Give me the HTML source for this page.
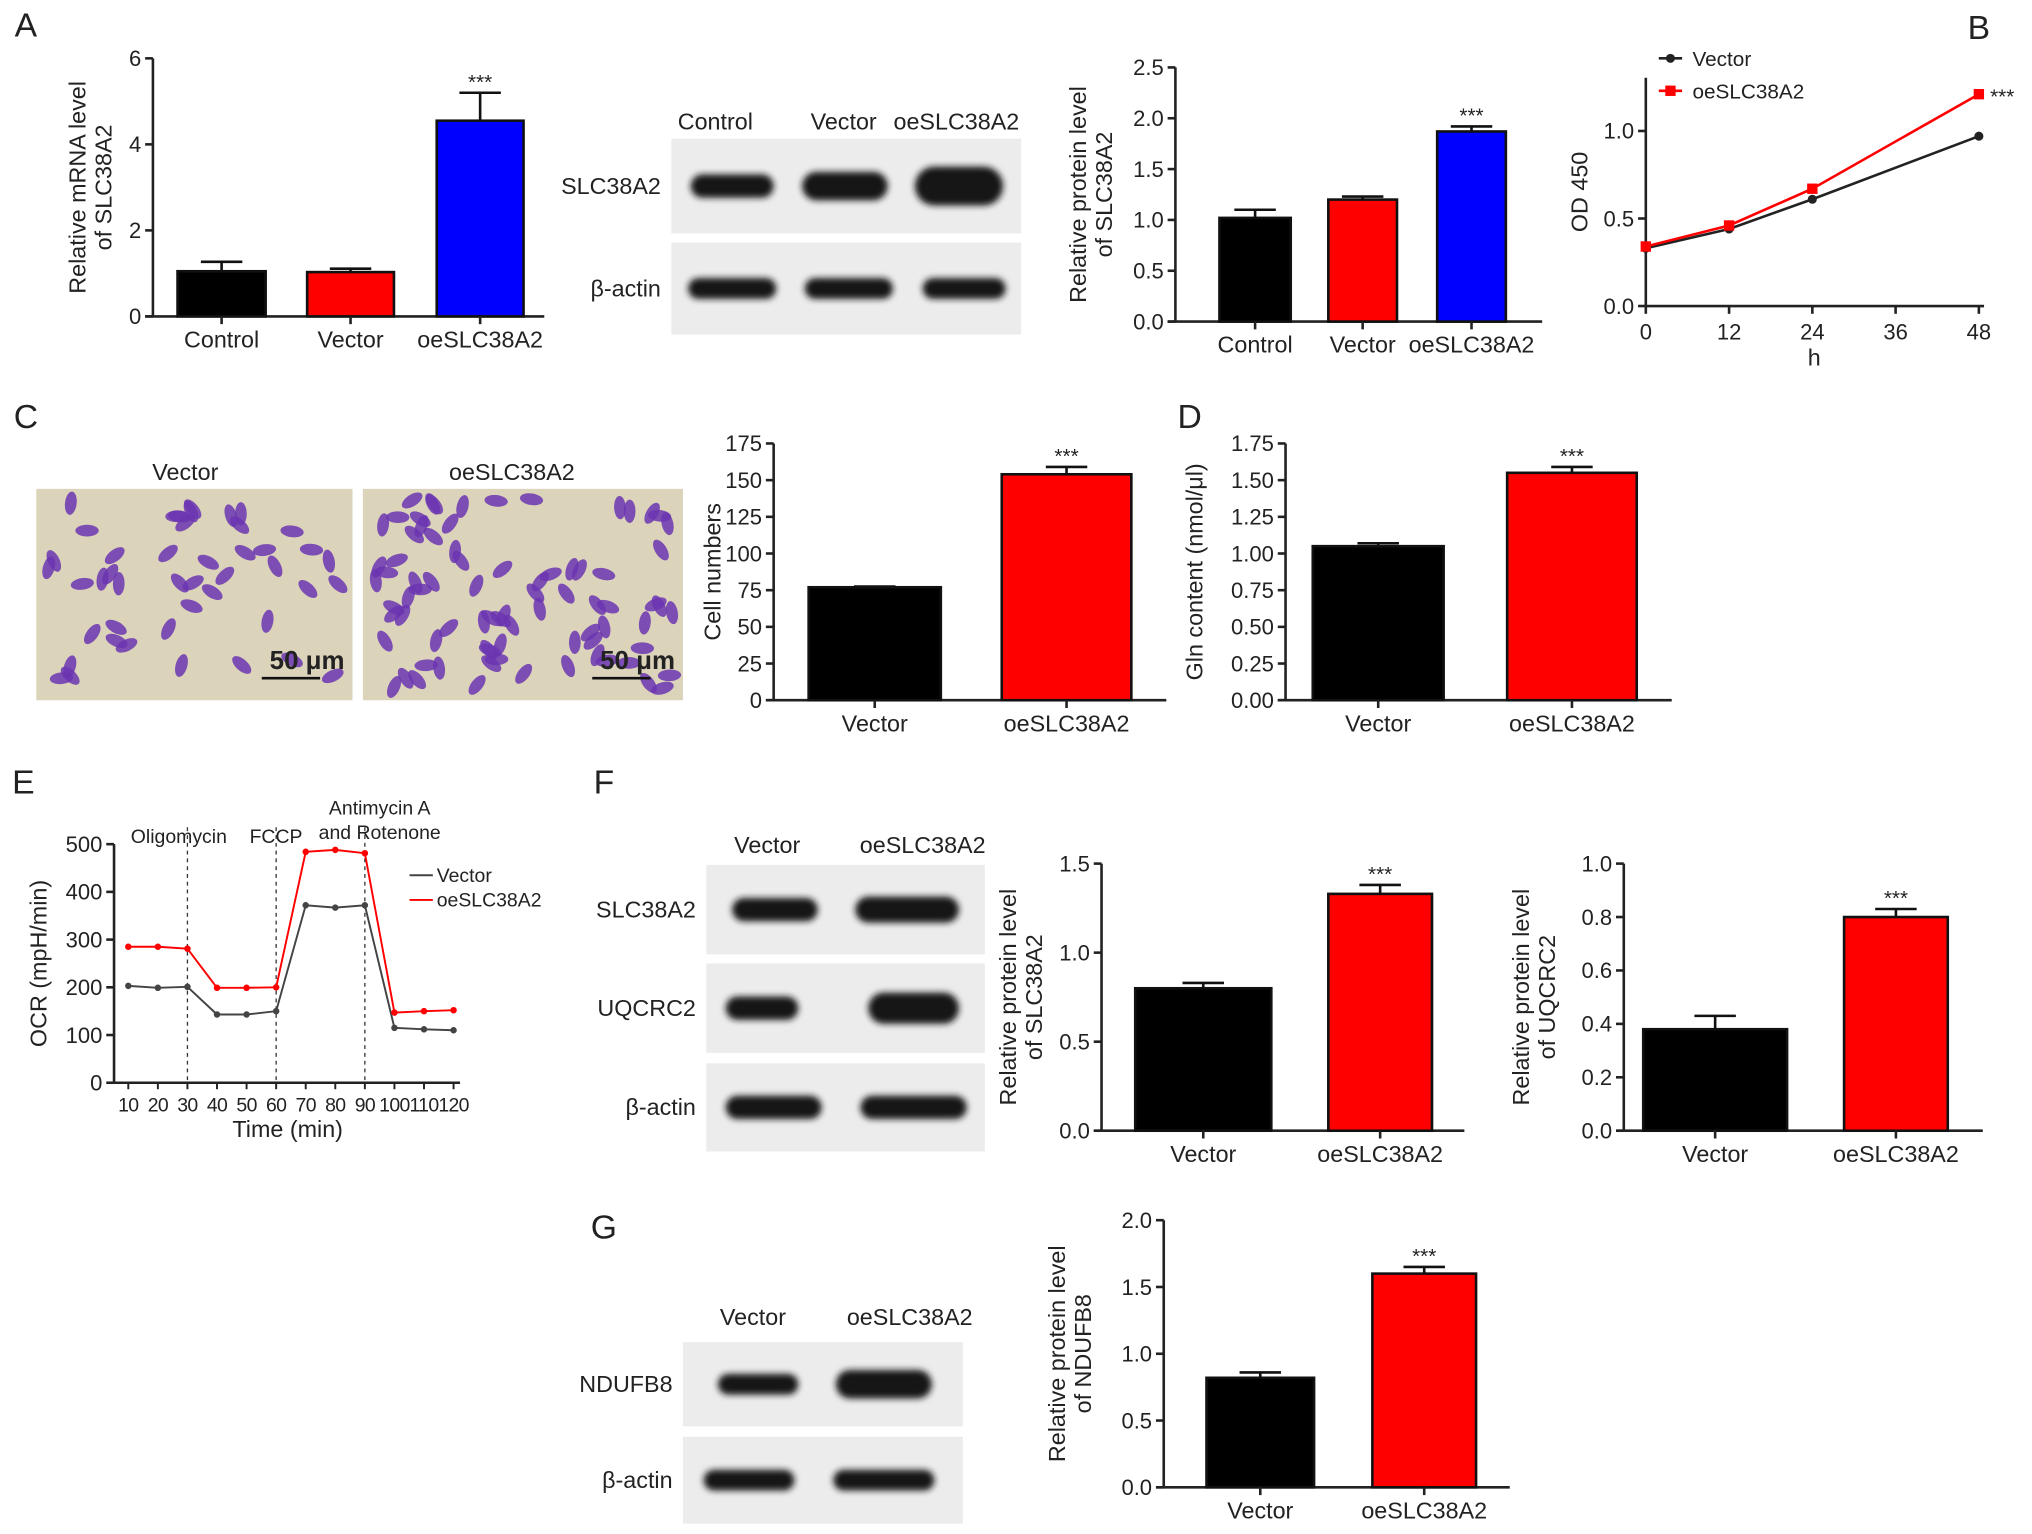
<!DOCTYPE html>
<html><head><meta charset="utf-8"><style>
html,body{margin:0;padding:0;background:#fff;}
svg{display:block;font-family:"Liberation Sans",Arial,sans-serif;}
</style></head><body>
<svg id="fig" width="2032" height="1534" viewBox="0 0 1568 1183" preserveAspectRatio="none" xmlns="http://www.w3.org/2000/svg">
<defs><filter id="blur" x="-20%" y="-50%" width="140%" height="200%"><feGaussianBlur stdDeviation="2.5"/></filter></defs>
</svg>
<script>
// ---- Data ----
const aMrnaCats = ["Control","Vector","oeSLC38A2"];
const aMrnaVals = [1.05,1.03,4.55];
const aMrnaErr = [0.22,0.08,0.65];
const aProtCats = ["Control","Vector","oeSLC38A2"];
const aProtVals = [1.02,1.20,1.87];
const aProtErr = [0.08,0.03,0.05];
const bHours = [0,12,24,48];
const bVector = [0.33,0.44,0.61,0.97];
const bOe = [0.34,0.46,0.67,1.21];
const cCats = ["Vector","oeSLC38A2"];
const cVals = [77,154];
const cErr = [0.5,5];
const dVals = [1.05,1.55];
const dErr = [0.02,0.04];
const eTimes = [10,20,30,40,50,60,70,80,90,100,110,120];
const eVector = [203,199,201,143,143,150,372,367,372,115,112,110];
const eOe = [285,285,281,199,199,200,484,488,481,147,150,152];
const fSlcVals = [0.80,1.33];
const fSlcErr = [0.03,0.05];
const fUqVals = [0.38,0.80];
const fUqErr = [0.05,0.03];
const gVals = [0.82,1.60];
const gErr = [0.04,0.05];

const svg = document.getElementById('fig');
const NS = 'http://www.w3.org/2000/svg';
function mk(tag, attrs, parent, txt){
  const e = document.createElementNS(NS, tag);
  for (const k in attrs) e.setAttribute(k, attrs[k]);
  if (txt !== undefined) e.textContent = txt;
  (parent || svg).appendChild(e);
  return e;
}
function text(x,y,s,size,anchor,name,extra){
  const t = mk('text', Object.assign({x:x,y:y,'font-size':size,'text-anchor':anchor||'middle',fill:'#222'}, extra||{}), null, s);
  
  
  return t;
}

function barChart(o){
  const g = mk('g', {});
  
  
  const sy = v => o.y0 - (v / o.max) * (o.y0 - o.yTop);
  const ya = mk('line', {x1:o.ax,y1:o.yTop,x2:o.ax,y2:o.y0,stroke:'#222','stroke-width':2}, g);
  
  
  const xa = mk('line', {x1:o.ax-6,y1:o.y0,x2:o.xEnd,y2:o.y0,stroke:'#222','stroke-width':2}, g);
  
  
  o.ticks.forEach(t => {
    const y = sy(t);
    const tl = mk('line', {x1:o.ax-6,y1:y,x2:o.ax,y2:y,stroke:'#222','stroke-width':2}, g);
    
    
    const tt = mk('text', {x:o.ax-9,y:y+6,'font-size':17,'text-anchor':'end',fill:'#222'}, g, t.toFixed(o.dec));
    
    
  });
  o.vals.forEach((v,i) => {
    const x1 = o.bx[i][0], x2 = o.bx[i][1], cx = (x1+x2)/2;
    const r = mk('rect', {x:x1,y:sy(v),width:x2-x1,height:o.y0-sy(v),fill:o.colors[i],stroke:'#111','stroke-width':2}, g);
    
    
    const ey = sy(v + o.err[i]);
    const el = mk('path', {d:`M${cx},${sy(v)}V${ey}M${cx-16},${ey}H${cx+16}`,stroke:'#111','stroke-width':2,fill:'none'}, g);
    
    
    const xt = mk('line', {x1:cx,y1:o.y0,x2:cx,y2:o.y0+6,stroke:'#222','stroke-width':2}, g);
    
    
    const xl = mk('text', {x:cx,y:o.y0+24,'font-size':18,'text-anchor':'middle',fill:'#222'}, g, o.cats[i]);
    
    
    if (o.star === i) {
      const st = mk('text', {x:cx,y:ey-3,'font-size':16,'text-anchor':'middle',fill:'#222'}, g, '***');
      
      
    }
  });
  o.title.forEach((l,k) => {
    const tx = o.titleX + k*20;
    const ty = (o.y0 + o.yTop)/2;
    const t = mk('text', {x:tx,y:ty,'font-size':18,'text-anchor':'middle',fill:'#222',transform:`rotate(-90 ${tx} ${ty})`}, g, l);
    
    
  });
}

function blot(o){
  const g = mk('g', {});
  
  
  o.rows.forEach((r) => {
    const bg = mk('rect', {x:o.x,y:r.y,width:o.w,height:r.h,fill:'#ececec'}, g);
    
    
    r.bands.forEach(b => {
      const e = mk('rect', {x:b[0]-b[1],y:r.y+r.h/2-b[2],width:2*b[1],height:2*b[2],rx:b[2],fill:'#151515',filter:'url(#blur)'}, g);
      
      
    });
    const l = mk('text', {x:o.x-8,y:r.y+r.h/2+6,'font-size':18,'text-anchor':'end',fill:'#222'}, g, r.label);
    
    
  });
  o.lanes.forEach(ln => {
    const t = mk('text', {x:ln[0],y:o.laneY,'font-size':18,'text-anchor':'middle',fill:'#222'}, g, ln[1]);
    
    
  });
}

[['A',20,28],['B',1527,30],['C',20,330],['D',918,330],['E',18,612],['F',466,612],['G',466,955]].forEach(p => {
  text(p[1], p[2], p[0], 26, 'middle', 'panel-label-' + p[0].toLowerCase());
});

barChart({name:'chart-a-mrna',ax:118,y0:244,yTop:45,max:6,xEnd:420,ticks:[0,2,4,6],dec:0,
  cats:aMrnaCats,vals:aMrnaVals,err:aMrnaErr,bx:[[137,205],[237,304],[337,404]],
  colors:['#000','#f00','#0000ff'],star:2,title:['Relative mRNA level','of SLC38A2'],titleX:66});
blot({name:'blot-a',x:518,w:270,laneY:100,lanes:[[552,'Control'],[651,'Vector'],[738,'oeSLC38A2']],
  rows:[{y:107,h:73,label:'SLC38A2',bands:[[565,32,9],[652,33,11],[740,34,15]]},
        {y:187,h:71,label:'β-actin',bands:[[565,34,8],[655,34,8],[744,32,8]]}]});
barChart({name:'chart-a-protein',ax:907,y0:248,yTop:52,max:2.5,xEnd:1190,ticks:[0,0.5,1,1.5,2,2.5],dec:1,
  cats:aProtCats,vals:aProtVals,err:aProtErr,bx:[[941,996],[1025,1078],[1109,1162]],
  colors:['#000','#f00','#0000ff'],star:2,title:['Relative protein level','of SLC38A2'],titleX:838});

(function(){
  const g = mk('g', {});
  
  
  const x0=1270,x1=1527,y0=236;
  const sx = h => x0 + h/48*(x1-x0);
  const syy = v => y0 - v*(y0-101);
  const ya = mk('line',{x1:x0,y1:60,x2:x0,y2:y0,stroke:'#222','stroke-width':2},g);
  
  
  const xa = mk('line',{x1:x0,y1:y0,x2:x1+4,y2:y0,stroke:'#222','stroke-width':2},g);
  
  
  [0,0.5,1.0].forEach(t=>{
    const tl = mk('line',{x1:x0-6,y1:syy(t),x2:x0,y2:syy(t),stroke:'#222','stroke-width':2},g);
    
    
    const tt = mk('text',{x:x0-9,y:syy(t)+6,'font-size':17,'text-anchor':'end',fill:'#222'},g,t.toFixed(1));
    
    
  });
  [0,12,24,36,48].forEach(t=>{
    const tl = mk('line',{x1:sx(t),y1:y0,x2:sx(t),y2:y0+6,stroke:'#222','stroke-width':2},g);
    
    
    const tt = mk('text',{x:sx(t),y:y0+26,'font-size':17,'text-anchor':'middle',fill:'#222'},g,String(t));
    
    
  });
  [[bVector,'#222','vector'],[bOe,'#f00','oeslc38a2']].forEach(s=>{
    const pts = s[0].map((v,i)=>sx(bHours[i])+','+syy(v)).join(' ');
    const pl = mk('polyline',{points:pts,fill:'none',stroke:s[1],'stroke-width':2},g);
    
    
    s[0].forEach((v,i)=>{
      const c = mk(s[2]==='vector'?'circle':'rect', s[2]==='vector'?{cx:sx(bHours[i]),cy:syy(v),r:3.5,fill:s[1]}:{x:sx(bHours[i])-4,y:syy(v)-4,width:8,height:8,fill:s[1]},g);
      
      
    });
  });
  text(1545,80,'***',16,'middle','significance-marker');
  text(1400,282,'h',18,'middle','x-axis-title');
  text(1225,148,'OD 450',18,'middle','y-axis-title',{transform:'rotate(-90 1225 148)'});
  const l1 = mk('line',{x1:1280,y1:45,x2:1298,y2:45,stroke:'#222','stroke-width':2});  
  const c1 = mk('circle',{cx:1289,cy:45,r:3.5,fill:'#222'});  
  text(1306,51,'Vector',16,'start','legend-entry-vector');
  const l2 = mk('line',{x1:1280,y1:70,x2:1298,y2:70,stroke:'#f00','stroke-width':2});  
  const c2 = mk('rect',{x:1285,y:66,width:8,height:8,fill:'#f00'});  
  text(1306,76,'oeSLC38A2',16,'start','legend-entry-oe');
})();

(function(){
  text(143,370,'Vector',18,'middle','image-label-vector');
  text(395,370,'oeSLC38A2',18,'middle','image-label-oe');
  [[28,244,45],[280,247,80]].forEach((im,k)=>{
    const bg = mk('rect',{x:im[0],y:377,width:im[1],height:163,fill:'#dcd3bb'});
    
    
    let s = 7+k*13;
    for(let i=0;i<im[2];i++){
      s = (s*9301+49297)%233280;
      const px = im[0]+8+(s/233280)*(im[1]-16);
      s = (s*9301+49297)%233280;
      const py = 385+(s/233280)*147;
      s = (s*9301+49297)%233280;
      const ang = (s/233280)*180;
      const e = mk('ellipse',{cx:px,cy:py,rx:9,ry:4.5,fill:'#6b35b0',opacity:0.85,transform:`rotate(${ang} ${px} ${py})`});
      
      
    }
    const sb = mk('line',{x1:im[0]+im[1]-70,y1:523,x2:im[0]+im[1]-25,y2:523,stroke:'#111','stroke-width':2});
    
    
    text(im[0]+im[1]-35,516,'50 μm',20,'middle','scale-bar-label',{'font-weight':'bold'});
  });
})();

barChart({name:'chart-c-cell-numbers',ax:597,y0:540,yTop:342,max:175,xEnd:900,ticks:[0,25,50,75,100,125,150,175],dec:0,
  cats:cCats,vals:cVals,err:cErr,bx:[[624,726],[773,873]],colors:['#000','#f00'],star:1,title:['Cell numbers'],titleX:556});
barChart({name:'chart-d-gln',ax:992,y0:540,yTop:342,max:1.75,xEnd:1290,ticks:[0,0.25,0.5,0.75,1,1.25,1.5,1.75],dec:2,
  cats:cCats,vals:dVals,err:dErr,bx:[[1013,1114],[1163,1263]],colors:['#000','#f00'],star:1,title:['Gln content (nmol/μl)'],titleX:928});

(function(){
  const g = mk('g',{});
  
  
  const ax=88,y0=835,yTop=651;
  const sx = t => 99 + (t-10)/110*(350-99);
  const sy = v => y0 - v/500*(y0-yTop);
  const ya = mk('line',{x1:ax,y1:yTop,x2:ax,y2:y0,stroke:'#222','stroke-width':2},g);
   
  const xa = mk('line',{x1:ax,y1:y0,x2:355,y2:y0,stroke:'#222','stroke-width':2},g);
   
  [0,100,200,300,400,500].forEach(t=>{
    const tl = mk('line',{x1:ax-6,y1:sy(t),x2:ax,y2:sy(t),stroke:'#222','stroke-width':2},g);
     
    const tt = mk('text',{x:ax-9,y:sy(t)+6,'font-size':17,'text-anchor':'end',fill:'#222'},g,String(t));
     
  });
  eTimes.forEach(t=>{
    const tl = mk('line',{x1:sx(t),y1:y0,x2:sx(t),y2:y0+5,stroke:'#222','stroke-width':1.5},g);
     
    const tt = mk('text',{x:sx(t),y:y0+22,'font-size':15,'text-anchor':'middle',fill:'#222','letter-spacing':'-0.5'},g,String(t));
     
  });
  [30,60,90].forEach(t=>{
    const d = mk('line',{x1:sx(t),y1:638,x2:sx(t),y2:y0,stroke:'#333','stroke-width':1,'stroke-dasharray':'3,3'},g);
     
  });
  text(138,650,'Oligomycin',15,'middle','annotation-oligomycin');
  text(213,650,'FCCP',15,'middle','annotation-fccp');
  text(293,628,'Antimycin A',15,'middle','annotation-antimycin');
  text(293,647,'and Rotenone',15,'middle','annotation-rotenone');
  [[eVector,'#444','vector'],[eOe,'#f00','oeslc38a2']].forEach(s=>{
    const pts = s[0].map((v,i)=>sx(eTimes[i])+','+sy(v)).join(' ');
    const pl = mk('polyline',{points:pts,fill:'none',stroke:s[1],'stroke-width':1.5},g);
     
    s[0].forEach((v,i)=>{
      const c = mk('circle',{cx:sx(eTimes[i]),cy:sy(v),r:2.5,fill:s[1]},g);
       
    });
  });
  const l1 = mk('line',{x1:316,y1:675,x2:334,y2:675,stroke:'#444','stroke-width':1.5});  
  text(337,680,'Vector',15,'start','legend-entry-vector');
  const l2 = mk('line',{x1:316,y1:694,x2:334,y2:694,stroke:'#f00','stroke-width':1.5});  
  text(337,699,'oeSLC38A2',15,'start','legend-entry-oe');
  text(222,877,'Time (min)',18,'middle','x-axis-title');
  text(36,743,'OCR (mpH/min)',18,'middle','y-axis-title',{transform:'rotate(-90 36 743)'});
})();

blot({name:'blot-f',x:545,w:215,laneY:658,lanes:[[592,'Vector'],[712,'oeSLC38A2']],
  rows:[{y:667,h:69,label:'SLC38A2',bands:[[598,33,9],[700,40,10]]},
        {y:743,h:69,label:'UQCRC2',bands:[[588,28,9],[705,35,12]]},
        {y:820,h:68,label:'β-actin',bands:[[597,37,9],[705,41,9]]}]});
barChart({name:'chart-f-slc38a2',ax:850,y0:872,yTop:666,max:1.5,xEnd:1130,ticks:[0,0.5,1,1.5],dec:1,
  cats:cCats,vals:fSlcVals,err:fSlcErr,bx:[[876,981],[1025,1105]],colors:['#000','#f00'],star:1,title:['Relative protein level','of SLC38A2'],titleX:784});
barChart({name:'chart-f-uqcrc2',ax:1253,y0:872,yTop:666,max:1.0,xEnd:1530,ticks:[0,0.2,0.4,0.6,0.8,1.0],dec:1,
  cats:cCats,vals:fUqVals,err:fUqErr,bx:[[1268,1379],[1423,1503]],colors:['#000','#f00'],star:1,title:['Relative protein level','of UQCRC2'],titleX:1180});

blot({name:'blot-g',x:527,w:216,laneY:1022,lanes:[[581,'Vector'],[702,'oeSLC38A2']],
  rows:[{y:1035,h:65,label:'NDUFB8',bands:[[585,31,8],[682,37,11]]},
        {y:1108,h:67,label:'β-actin',bands:[[578,35,8],[682,39,8]]}]});
barChart({name:'chart-g-ndufb8',ax:898,y0:1147,yTop:941,max:2.0,xEnd:1165,ticks:[0,0.5,1,1.5,2],dec:1,
  cats:cCats,vals:gVals,err:gErr,bx:[[931,1014],[1059,1139]],colors:['#000','#f00'],star:1,title:['Relative protein level','of NDUFB8'],titleX:822});
</script>
</body></html>
